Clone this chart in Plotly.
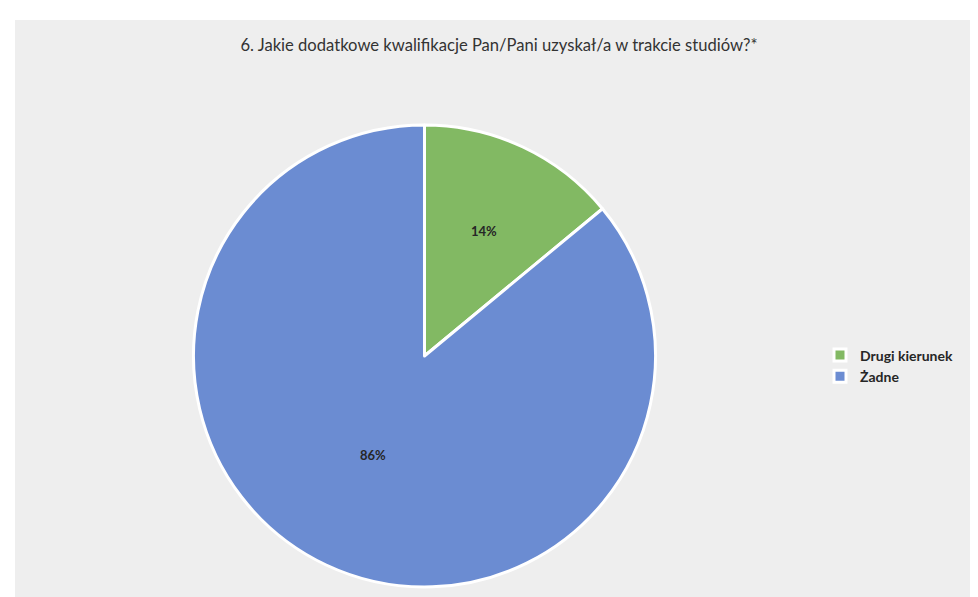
import math
import plotly.graph_objects as go

labels = ["Drugi kierunek", "Żadne"]
values = [14, 86]
colors = ["#82b963", "#6b8cd2"]
title = "6. Jakie dodatkowe kwalifikacje Pan/Pani uzyskał/a w trakcie studiów?*"

W, H = 978, 597
cx, cy, r = 416.5, 348, 231
label_r = [0.6, 0.52]  # how far out from centre each % label sits

fig = go.Figure(go.Pie(
    labels=labels,
    values=values,
    sort=False,
    direction="clockwise",
    rotation=0,
    marker=dict(colors=colors, line=dict(color="white", width=3)),
    textinfo="none",
    domain=dict(x=[(cx - r) / W, (cx + r) / W], y=[1 - (cy + r) / H, 1 - (cy - r) / H]),
    hoverinfo="label+percent",
))

# percentage labels placed like Excel does (mid angle of each slice)
total = sum(values)
start = 0
for v, k in zip(values, label_r):
    mid = (start + v / 2) / total * 2 * math.pi
    start += v
    px_ = cx + k * r * math.sin(mid)
    py_ = cy - k * r * math.cos(mid)
    fig.add_annotation(x=px_ / W, y=1 - py_ / H, xref="paper", yref="paper",
                       text="<b>%d%%</b>" % round(v / total * 100), showarrow=False,
                       font=dict(family="Lato", size=13, color="#262626"))

# chart area background
fig.add_shape(type="rect", xref="paper", yref="paper",
              x0=7 / W, x1=1, y0=1 - 593 / H, y1=1 - 12 / H,
              fillcolor="#eeeeee", line=dict(width=0), layer="below")

fig.update_layout(
    width=W, height=H,
    margin=dict(l=0, r=0, t=0, b=0),
    paper_bgcolor="white",
    title=dict(text=title, x=491 / W, xanchor="center", y=1 - 37 / H, yanchor="middle",
               font=dict(family="Lato", size=16.6, color="#333333")),
    legend=dict(x=812 / W, y=1 - 358 / H, xanchor="left", yanchor="middle",
                font=dict(family="Lato", size=14, color="#262626", weight="bold"),
                bgcolor="rgba(0,0,0,0)", itemwidth=30),
    showlegend=True,
)

fig.write_html("out.html")
